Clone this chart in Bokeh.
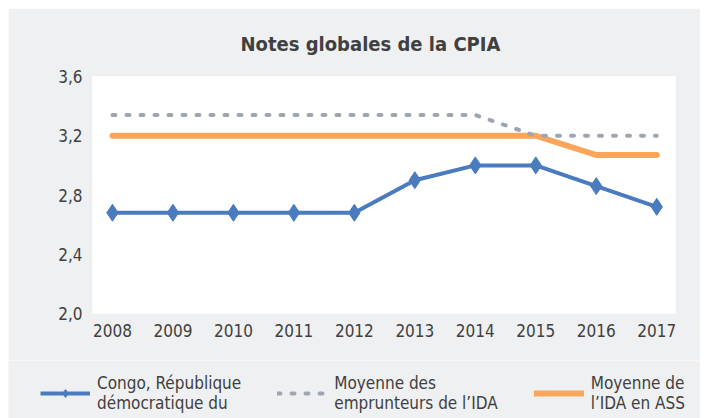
from bokeh.plotting import figure
from bokeh.models import FixedTicker, CustomJSTickFormatter, Legend, LegendItem, Range1d, Title
from bokeh.embed import file_html
from bokeh.resources import INLINE

years = [2008, 2009, 2010, 2011, 2012, 2013, 2014, 2015, 2016, 2017]
congo = [2.68, 2.68, 2.68, 2.68, 2.68, 2.90, 3.00, 3.00, 2.86, 2.72]
ida_borrowers = [3.34, 3.34, 3.34, 3.34, 3.34, 3.34, 3.34, 3.20, 3.20, 3.20]
ida_ssa = [3.20, 3.20, 3.20, 3.20, 3.20, 3.20, 3.20, 3.20, 3.07, 3.07]
y_ticks = [2.0, 2.4, 2.8, 3.2, 3.6]

labels = ["Congo, République\ndémocratique du", "Moyenne des\nemprunteurs de l\u2019IDA", "Moyenne de\nl\u2019IDA en ASS"]

FONT = "'Liberation Sans Narrow', 'DejaVu Sans Condensed', 'Roboto Condensed', sans-serif"
TXT = "#404040"
BG = "#eff0f2"
BLUE = "#4a7bbf"
ORANGE = "#f9a65a"
GRAY = "#9ea6b2"


def draw(fig, dia_size):
    a = fig.line(years, ida_ssa, line_color=ORANGE, line_width=6, line_cap="round", line_join="round")
    b = fig.line(years, ida_borrowers, line_color=GRAY, line_width=4, line_dash="3 11", line_cap="round")
    c = fig.line(years, congo, line_color=BLUE, line_width=4, line_join="round")
    d = fig.scatter(years, congo, marker="diamond", size=dia_size, fill_color=BLUE, line_color=BLUE)
    return a, b, c, d


# main chart
p = figure(width=692, height=352, output_backend="svg", toolbar_location=None,
           x_range=Range1d(2007.67, 2017.31), y_range=Range1d(2.0, 3.6),
           min_border_left=84, min_border_right=25, min_border_top=68, min_border_bottom=47)
p.margin = (8, 0, 0, 8)
p.background_fill_color = "white"
p.border_fill_color = BG
p.outline_line_color = None
p.grid.visible = False

t = Title(text="Notes globales de la CPIA", align="left", text_font=FONT,
          text_font_size="20px", text_font_style="bold", text_color=TXT, standoff=42, offset=148)
p.add_layout(t, "above")

draw(p, 17)

for ax in (p.xaxis, p.yaxis):
    ax.axis_line_color = None
    ax.major_tick_line_color = None
    ax.minor_tick_line_color = None
    ax.major_label_text_font = FONT
    ax.major_label_text_font_size = "17px"
    ax.major_label_text_color = TXT

p.xaxis.ticker = FixedTicker(ticks=years)
p.xaxis.major_label_standoff = 4
p.yaxis.ticker = FixedTicker(ticks=y_ticks)
p.yaxis.major_label_standoff = 4
p.yaxis.formatter = CustomJSTickFormatter(code="return tick.toFixed(1).replace('.', ',');")

# legend strip (same series, drawn outside its own visible ranges; only the legend shows)
q = figure(width=692, height=58, output_backend="svg", toolbar_location=None,
           x_range=Range1d(0, 1), y_range=Range1d(0, 1),
           x_axis_location=None, y_axis_location=None,
           min_border_left=0, min_border_right=0, min_border_top=0, min_border_bottom=0)
q.margin = (0, 0, 0, 8)
q.background_fill_color = BG
q.border_fill_color = BG
q.outline_line_color = None
q.grid.visible = False
ra, rb, rc, rd = draw(q, 13)

legend = Legend(items=[LegendItem(label=labels[0], renderers=[rc, rd]),
                       LegendItem(label=labels[1], renderers=[rb]),
                       LegendItem(label=labels[2], renderers=[ra])],
                orientation="horizontal", location=(32, 5),
                padding=0, margin=0, spacing=36, glyph_width=50, glyph_height=20,
                label_standoff=7, label_text_font=FONT, label_text_font_size="17px",
                label_text_color=TXT, background_fill_alpha=0, border_line_color=None,
                label_text_line_height=1.45)
q.add_layout(legend, "center")

open("out.html", "w").write(file_html([p, q], INLINE))
